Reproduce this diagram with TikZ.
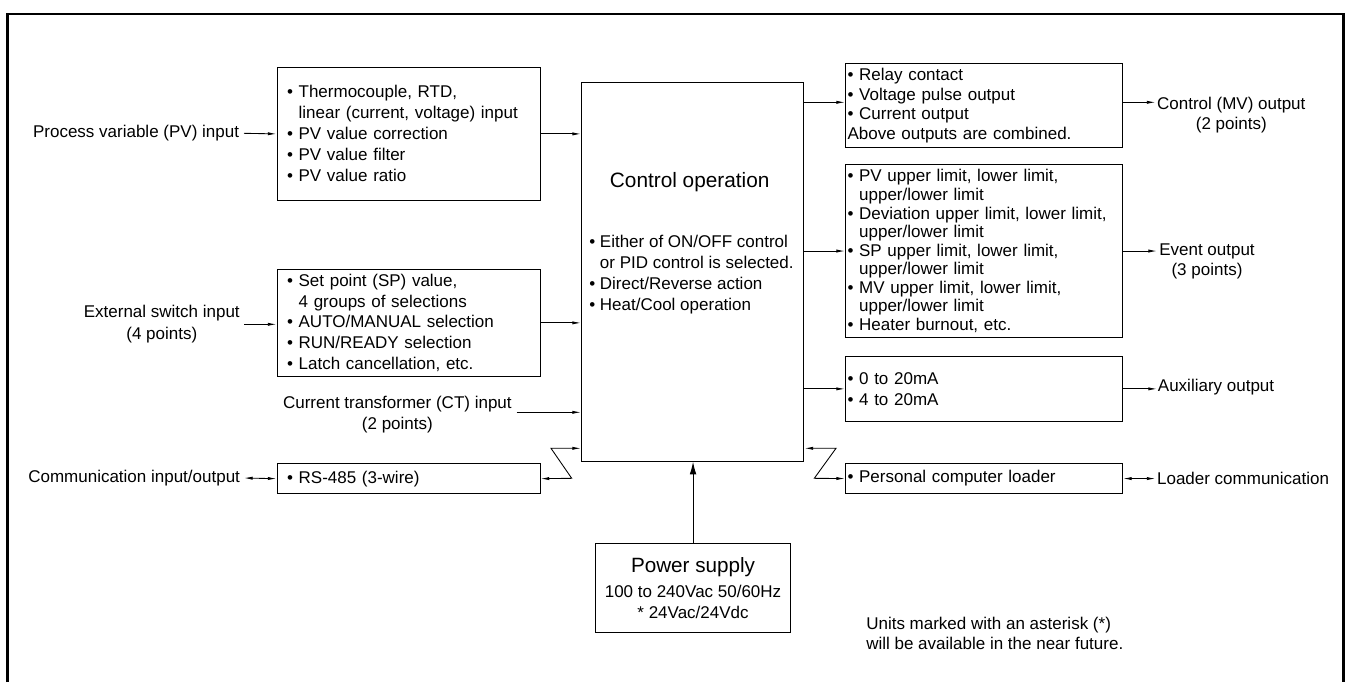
\documentclass[tikz,border=0pt]{standalone}
\usepackage{fontspec}
\setmainfont{Liberation Sans}
\usepackage{tikz}
\usetikzlibrary{arrows.meta}

\newcommand{\bul}{\textbullet\ }
\newcommand{\bulind}{\hphantom{\textbullet\ }}

\begin{document}
\begin{tikzpicture}[x=0.75pt,y=0.75pt,yscale=-1,
  font=\fontsize{12.75}{15.75}\selectfont,
  blkl/.style={draw, line width=0.8pt, anchor=north west, align=left, inner ysep=0pt, inner xsep=7.5pt},
  blkr/.style={draw, line width=0.8pt, anchor=north west, align=left, inner ysep=0pt, inner xsep=1.5pt},
  lbl/.style={inner sep=0pt, align=center},
  arr/.style={line width=0.65pt, -{Latex[length=6.5pt,width=2.4pt]}},
  dbl/.style={line width=0.65pt, {Latex[length=6.5pt,width=2.4pt]}-{Latex[length=6.5pt,width=2.4pt]}},
  bigarr/.style={line width=0.8pt, -{Latex[length=9.5pt,width=5pt]}}]
\useasboundingbox (0,0) rectangle (1346,682);

%Straight Lines (outer frame)
\draw [line width=2pt] (7.8,682) -- (7.8,14) -- (1343.8,14) -- (1343.8,682) ;

%Shape: Rectangle
\node [blkl, text width=182.25pt, minimum height=100pt] (pv) at (276.5,66.7) {\bul Thermocouple, RTD,\\\bulind linear (current, voltage) input\\\bul PV value correction\\\bul PV value filter\\\bul PV value ratio};
%Shape: Rectangle
\node [blkl, text width=182.25pt, minimum height=80pt, font=\fontsize{12.75}{15.5}\selectfont] (sp) at (276.5,269) {\bul Set point (SP) value,\\\bulind 4 groups of selections\\\bul AUTO/MANUAL selection\\\bul RUN/READY selection\\\bul Latch cancellation, etc.};
%Shape: Rectangle
\node [blkl, text width=182.25pt, minimum height=22.7pt] (rs) at (276.5,463) {\bul RS-485 (3-wire)};

%Shape: Rectangle
\node [draw, line width=0.8pt, anchor=north west, minimum width=166.8pt, minimum height=283.7pt, inner sep=0pt] (ctrl) at (581,82.3) {};
% Text Node
\node [inner sep=0pt, font=\fontsize{15.6}{18}\selectfont] (ctrlttl) at (689.7,181.7) {Control operation};
% Text Node
\node [anchor=west, align=left, inner sep=0pt] (ctrltxt) at (589,275) {\bul Either of ON/OFF control\\\bulind or PID control is selected.\\\bul Direct/Reverse action\\\bul Heat/Cool operation};

%Shape: Rectangle
\node [blkr, text width=204.75pt, minimum height=62.5pt, font=\fontsize{12.75}{14.8}\selectfont] (relay) at (845,63.3) {\bul Relay contact\\\bul Voltage pulse output\\\bul Current output\\Above outputs are combined.};
%Shape: Rectangle
\node [blkr, text width=204.75pt, minimum height=129.3pt, font=\fontsize{12.75}{13.9}\selectfont] (event) at (845,164.3) {\bul PV upper limit, lower limit,\\\bulind upper/lower limit\\\bul Deviation upper limit, lower limit,\\\bulind upper/lower limit\\\bul SP upper limit, lower limit,\\\bulind upper/lower limit\\\bul MV upper limit, lower limit,\\\bulind upper/lower limit\\\bul Heater burnout, etc.};
%Shape: Rectangle
\node [blkr, text width=204.75pt, minimum height=48.5pt] (aux) at (845,356) {\bul 0 to 20mA\\\bul 4 to 20mA};
%Shape: Rectangle
\node [blkr, text width=204.75pt, minimum height=23pt] (loader) at (845,462.7) {\bul Personal computer loader};

%Shape: Rectangle
\node [draw, line width=0.8pt, anchor=north west, minimum width=146.25pt, minimum height=66.3pt, align=center, inner sep=0pt] (pwr) at (595,543.3) {{\fontsize{15.5}{18}\selectfont Power supply}\\[3pt]100 to 240Vac 50/60Hz\\{}* 24Vac/24Vdc};

% Text Node
\node [lbl, anchor=east, inner xsep=3.5pt] (pvin) at (244,133.3) {Process variable (PV) input};
% Text Node
\node [lbl, anchor=east, inner xsep=3pt, font=\fontsize{12.75}{16.3}\selectfont] (swin) at (244,324.3) {External switch input\\(4 points)};
% Text Node
\node [lbl, anchor=east, inner xsep=3.5pt] (ctin) at (516.6,414.5) {Current transformer (CT) input\\(2 points)};
% Text Node
\node [lbl, anchor=east, inner xsep=2.8pt] (comm) at (244,478) {Communication input/output};
% Text Node
\node [lbl, anchor=west, inner xsep=1pt, font=\fontsize{12.75}{15}\selectfont] (mvout) at (1155.5,115) {Control (MV) output\\(2 points)};
% Text Node
\node [lbl, anchor=west, inner xsep=1.5pt, font=\fontsize{12.75}{15}\selectfont] (evout) at (1157,261.7) {Event output\\(3 points)};
% Text Node
\node [lbl, anchor=west, inner xsep=0.5pt] (auxout) at (1157,387.3) {Auxiliary output};
% Text Node
\node [lbl, anchor=west, inner xsep=1pt] (ldcom) at (1155.5,478) {Loader communication};
% Text Node
\node [lbl, anchor=west, align=left, font=\fontsize{12.75}{15}\selectfont] (note) at (866,633.3) {Units marked with an asterisk (*)\\will be available in the near future.};

%Straight Lines (inputs)
\draw [arr] (pvin.east) -- (pv.west) ;
\draw [arr] (swin.east) -- (swin.east -| sp.west) ;
\draw [dbl] (comm.east) -- (rs.west) ;
\draw [arr] (pv.east) -- (pv.east -| ctrl.west) ;
\draw [arr] (sp.east) -- (sp.east -| ctrl.west) ;
\draw [arr] (ctin.east |- 0,412.3) -- (ctrl.west |- 0,412.3) ;

%Straight Lines (communication zigzags)
\coordinate (zl1) at (551,448.3) ;
\coordinate (zl2) at (571.7,478.3) ;
\draw [dbl] (rs.east) -- (zl2) -- (zl1) -- (zl1 -| ctrl.west) ;
\coordinate (zr1) at (836,448.3) ;
\coordinate (zr2) at (814.3,478.3) ;
\draw [dbl] (zr1 -| ctrl.east) -- (zr1) -- (zr2) -- (loader.west) ;

%Straight Lines (outputs)
\draw [arr] (ctrl.east |- 0,102.3) -- (relay.west |- 0,102.3) ;
\draw [arr] (relay.east |- 0,102.3) -- (mvout.west |- 0,102.3) ;
\draw [arr] (event.west -| ctrl.east) -- (event.west) ;
\draw [arr] (event.east) -- (event.east -| evout.west) ;
\draw [arr] (aux.west -| ctrl.east) -- (aux.west) ;
\draw [arr] (aux.east) -- (aux.east -| auxout.west) ;
\draw [dbl] (loader.east) -- (loader.east -| ldcom.west) ;

%Straight Lines (power)
\draw [bigarr] (pwr.north) -- (pwr.north |- ctrl.south) ;

\end{tikzpicture}
\end{document}
